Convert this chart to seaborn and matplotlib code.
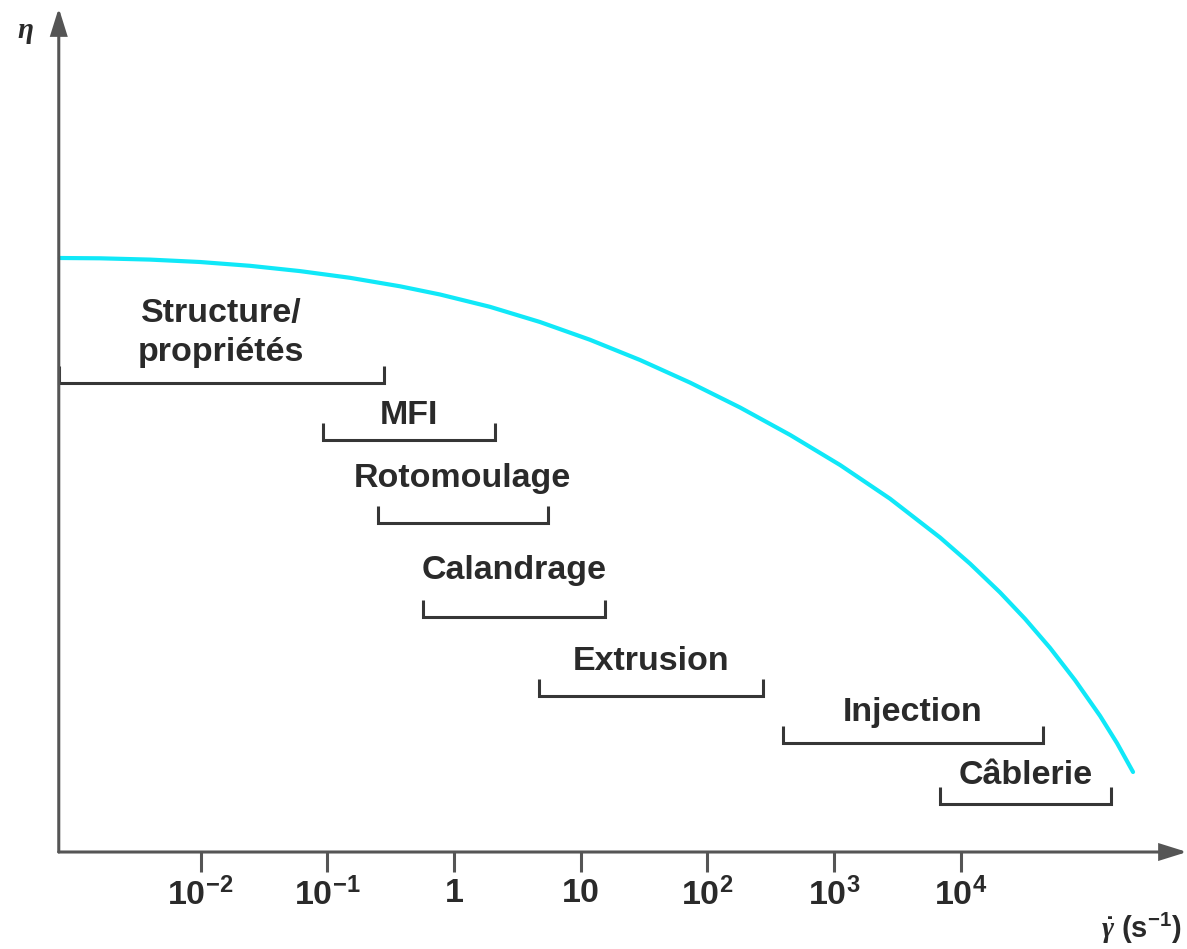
import matplotlib
matplotlib.use("Agg")
import matplotlib.pyplot as plt
import seaborn as sns
import numpy as np
import pandas as pd

# Flow curve: shear rate (s^-1) vs viscosity (arbitrary units)
shear_rate = [7.76e-4, 1.61e-3, 3.99e-3, 9.89e-3, 0.0245, 0.0609, 0.151,
              0.375, 0.776, 1.92, 4.77, 11.8, 29.4, 72.9, 181, 449, 1114,
              2761, 6855, 11830, 20380, 32100, 50600, 79700, 125600, 171000,
              228600]
viscosity = [594.0, 593.7, 592.4, 590.0, 586.2, 580.9, 574.2, 565.7, 557.5,
             545.2, 530.0, 512.3, 492.0, 469.4, 444.5, 417.1, 387.0, 353.3,
             314.5, 288.3, 259.6, 233.2, 204.1, 171.8, 136.1, 108.8, 80.0]

# Processing windows: shear-rate range and level on the chart
processes = ["Structure/\npropriétés", "MFI", "Rotomoulage", "Calandrage",
             "Extrusion", "Injection", "Câblerie"]
range_low = [7.6e-4, 0.092, 0.25, 0.57, 4.7, 395, 6850]
range_high = [0.28, 2.1, 5.5, 15.6, 275, 44600, 153000]
range_level = [469, 412, 329, 235, 156, 109, 48]
label_level = [519, 437, 374, 282, 190, 140, 76]

tick_values = [1e-2, 1e-1, 1, 10, 1e2, 1e3, 1e4]
tick_labels = [r"$\mathrm{10^{-2}}$", r"$\mathrm{10^{-1}}$",
               r"$\mathrm{1}$", r"$\mathrm{10}$",
               r"$\mathrm{10^{2}}$", r"$\mathrm{10^{3}}$",
               r"$\mathrm{10^{4}}$"]

sns.set_style("white")
plt.rcParams["font.family"] = ["Liberation Sans", "DejaVu Sans"]
plt.rcParams["mathtext.fontset"] = "custom"
plt.rcParams["mathtext.rm"] = "Liberation Sans:bold"
plt.rcParams["mathtext.it"] = "Liberation Serif:italic:bold"
plt.rcParams["mathtext.bf"] = "Liberation Sans:bold"

AXIS_COLOR = "#555555"
INK = "#2a2a2a"
CURVE_COLOR = "#10e8f8"

fig = plt.figure(figsize=(11.87, 9.49), dpi=100)
ax = fig.add_axes([0, 0, 1, 1])
ax.set_xscale("log")
x_origin = 7.6e-4
x_tip = 10 ** 5.785
y_tip = 844
ax.set_xlim(10 ** -3.583, 10 ** 5.785)
ax.set_ylim(-97, 852)

# viscosity curve
df = pd.DataFrame({"shear": shear_rate, "eta": viscosity})
sns.lineplot(data=df, x="shear", y="eta", ax=ax, color=CURVE_COLOR,
             linewidth=3.0, sort=True, zorder=3)

# processing-window brackets
tick_h = 17
for name, lo, hi, lev, lab in zip(processes, range_low, range_high,
                                   range_level, label_level):
    ax.plot([lo, lo, hi, hi], [lev + tick_h, lev, lev, lev + tick_h],
            color="#363636", lw=2.2, solid_joinstyle="miter",
            solid_capstyle="butt", zorder=2)
    xc = np.sqrt(lo * hi)
    ax.text(xc, lab, name, ha="center", va="center", fontsize=24.5,
            fontweight="bold", color=INK, linespacing=1.35)

# axes with arrow heads
for s in ["top", "right", "bottom", "left"]:
    ax.spines[s].set_visible(False)
ax.spines["bottom"].set_position(("data", 0))
ax.spines["left"].set_position(("data", x_origin))

arrow = dict(arrowstyle="-|>,head_length=1.6,head_width=0.5",
             mutation_scale=10, color=AXIS_COLOR, lw=2.2,
             shrinkA=0, shrinkB=0, joinstyle="miter")
ax.annotate("", xy=(x_tip, 0), xytext=(x_origin, 0), arrowprops=arrow,
            annotation_clip=False)
ax.annotate("", xy=(x_origin, y_tip), xytext=(x_origin, 0), arrowprops=arrow,
            annotation_clip=False)

ax.set_xticks(tick_values)
ax.set_xticklabels(tick_labels)
ax.xaxis.set_minor_locator(matplotlib.ticker.NullLocator())
ax.tick_params(axis="x", direction="out", length=14.5, width=2.2,
               color=AXIS_COLOR, labelsize=24.5, labelcolor=INK, pad=4,
               bottom=True)
ax.set_yticks([])
ax.set_xlabel("")
ax.set_ylabel("")

# axis titles
ax.text(10 ** ((25 - 454) / 126.7), 852 - 32, r"$\eta$", ha="center",
        va="center", fontsize=21, color=INK)
ax.text(10 ** ((1141 - 454) / 126.7), 852 - 928,
        r"$\dot{\gamma}$ $\mathrm{(s^{-1})}$", ha="center", va="center",
        fontsize=21, color=INK)

fig.savefig("out.png", dpi=100, facecolor="white")
